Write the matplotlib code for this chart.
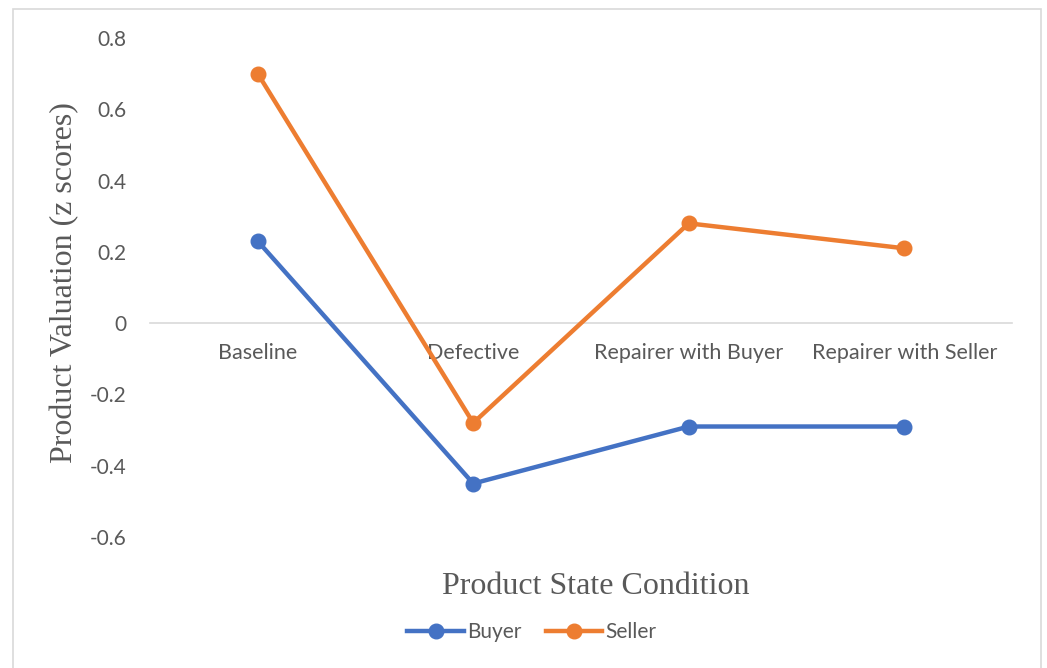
import matplotlib.pyplot as plt
from matplotlib.patches import Rectangle

conditions = ['Baseline', 'Defective', 'Repairer with Buyer', 'Repairer with Seller']
buyer = [0.23, -0.45, -0.29, -0.29]
seller = [0.70, -0.28, 0.28, 0.21]
yticks = [-0.6, -0.4, -0.2, 0, 0.2, 0.4, 0.6, 0.8]

blue = '#4472C4'
orange = '#ED7D31'
grey = '#595959'
sans = ['Lato', 'DejaVu Sans']
serif = ['Liberation Serif', 'DejaVu Serif']

fig = plt.figure(figsize=(10.47, 6.68), dpi=100)
ax = fig.add_axes([150/1047, 1-537/668, 862/1047, 499/668])

# axis line sits at zero, set before the tick labels since it resets them
for s in ['top', 'right', 'left']:
	ax.spines[s].set_visible(False)
ax.spines['bottom'].set_position(('data', 0))
ax.spines['bottom'].set_color('#d9d9d9')
ax.spines['bottom'].set_linewidth(1.2)

x = range(len(conditions))
ax.plot(x, buyer, color=blue, lw=3.2, marker='o', markersize=10.5, label='Buyer', zorder=3)
ax.plot(x, seller, color=orange, lw=3.2, marker='o', markersize=10.5, label='Seller', zorder=3)

ax.set_xlim(-0.5, len(conditions) - 0.5)
ax.set_ylim(-0.6, 0.8)
ax.set_yticks(yticks)
ax.set_yticklabels(['0' if v == 0 else f'{v:.1f}' for v in yticks], family=sans, fontsize=15, color=grey)
ax.set_xticks(list(x))
ax.set_xticklabels(conditions, family=sans, fontsize=15.5, color=grey)
ax.tick_params(axis='both', length=0)
ax.tick_params(axis='x', pad=14)
ax.tick_params(axis='y', pad=17)

fig.text(65/1047, 1-283/668, 'Product Valuation (z scores)', rotation=90, ha='center', va='center',
	family=serif, fontsize=23, color=grey)
fig.text(596/1047, 1-587/668, 'Product State Condition', ha='center', va='center',
	family=serif, fontsize=23, color=grey)

leg = fig.legend(loc='center', bbox_to_anchor=(532/1047, 1-632/668), ncol=2, frameon=False,
	prop={'family': sans, 'size': 15}, handlelength=2.7, columnspacing=1.2, handletextpad=0.15)
for t in leg.get_texts():
	t.set_color(grey)

fig.patches.append(Rectangle((13/1047, -0.02), 1028/1047, 1.02-9/668, transform=fig.transFigure,
	fill=False, edgecolor='#d9d9d9', lw=1.2))

plt.savefig('out.png', dpi=100)
